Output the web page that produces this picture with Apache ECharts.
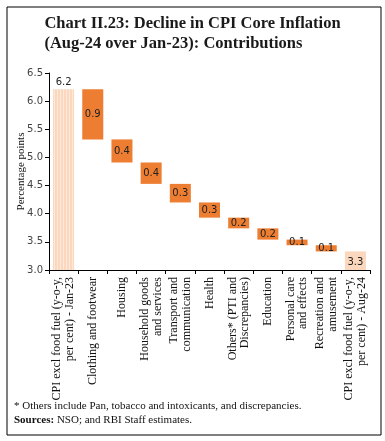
<!DOCTYPE html>
<html><head><meta charset="utf-8">
<script src="https://cdn.jsdelivr.net/npm/echarts@6/dist/echarts.min.js"></script>
<style>html,body{margin:0;padding:0;background:#fff}#c{width:385px;height:441px}</style>
</head><body><div id="c"></div>
<script>
var categories = [
  "CPI excl food fuel (y-o-y,\nper cent) - Jan-23",
  "Clothing and footwear",
  "Housing",
  "Household goods\nand services",
  "Transport and\ncommunication",
  "Health",
  "Others* (PTI and\nDiscrepancies)",
  "Education",
  "Personal care\nand effects",
  "Recreation and\namusement",
  "CPI excl food fuel (y-o-y,\nper cent) - Aug-24"
];
var startValue = 6.21;
var contributions = [0.89, 0.41, 0.38, 0.33, 0.27, 0.19, 0.20, 0.10, 0.11];
var endValue = 3.33;
var yTicks = [3.0, 3.5, 4.0, 4.5, 5.0, 5.5, 6.0, 6.5];

var orange = '#ED7D31', pale = '#FAD7BD';
var baseData = [0], valData = [];
valData.push({value: startValue, itemStyle: {color: pale, decal: {symbol: 'rect', color: 'rgba(255,255,255,0.45)', dashArrayX: [1, 2], dashArrayY: [1, 0], rotation: 0}},
  label: {position: 'top', distance: 2}});
var level = startValue;
contributions.forEach(function (c) {
  level = level - c;
  baseData.push(level);
  valData.push({value: c, itemStyle: {color: orange}});
});
baseData.push(0);
valData.push({value: endValue, itemStyle: {color: pale}, label: {position: 'insideTop', distance: 6}});

var chart = echarts.init(document.getElementById('c'), null, {renderer: 'canvas'});
chart.setOption({
  animation: false,
  aria: {enabled: false, decal: {show: true}},
  grid: {left: 49, right: 15, top: 73, bottom: 171},
  graphic: [
    {type: 'rect', shape: {x: 7, y: 7, width: 374, height: 428}, style: {fill: 'none', stroke: '#000', lineWidth: 1}},
    {type: 'text', left: 'center', top: 14, style: {text: 'Chart II.23: Decline in CPI Core Inflation\n(Aug-24 over Jan-23): Contributions', font: 'bold 16.5px "Liberation Serif"', fill: '#1a1a1a', align: 'center', lineHeight: 20}},
    {type: 'text', left: 14, top: 401, style: {text: '* Others include Pan, tobacco and intoxicants, and discrepancies.', font: '11px "Liberation Serif"', fill: '#111'}},
    {type: 'text', left: 14, top: 415, style: {text: '{b|Sources:} NSO; and RBI Staff estimates.', font: '11px "Liberation Serif"', fill: '#111', rich: {b: {fontWeight: 'bold', fontFamily: 'Liberation Serif', fontSize: 11}}}}
  ],
  xAxis: {
    type: 'category', data: categories,
    axisLine: {lineStyle: {color: '#000'}},
    axisTick: {show: true, length: 4, lineStyle: {color: '#000'}},
    axisLabel: {rotate: 90, interval: 0, color: '#111', fontFamily: 'Liberation Serif', fontSize: 12, lineHeight: 12.5, margin: 7}
  },
  yAxis: {
    type: 'value', min: 3, max: 6.5, interval: 0.5,
    name: 'Percentage points', nameLocation: 'middle', nameGap: 22, nameMoveOverlap: false,
    nameTextStyle: {fontFamily: 'Liberation Serif', fontSize: 11, color: '#111'},
    axisLine: {show: true, lineStyle: {color: '#000'}},
    axisTick: {show: true, length: 4, lineStyle: {color: '#000'}},
    splitLine: {show: false},
    axisLabel: {color: '#444', fontFamily: 'DejaVu Sans', fontSize: 10, margin: 6, formatter: function (v) { return v.toFixed(1); }}
  },
  series: [
    {type: 'bar', stack: 'w', data: baseData, itemStyle: {color: 'transparent'}, barWidth: '72%', silent: true},
    {type: 'bar', stack: 'w', data: valData, barWidth: '72%',
      label: {show: true, position: 'inside', color: '#222', fontFamily: 'DejaVu Sans', fontSize: 10,
        formatter: function (p) { return p.value.toFixed(1); }}}
  ]
});
</script></body></html>
